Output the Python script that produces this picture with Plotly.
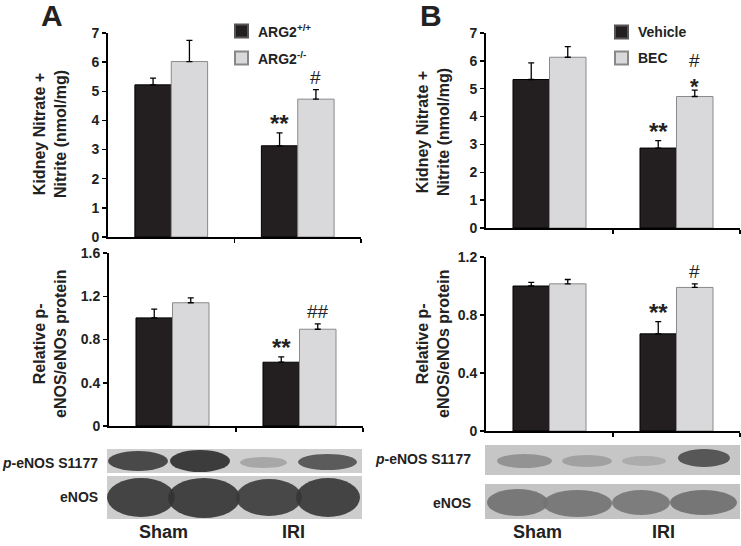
import plotly.graph_objects as go

# ---------------- data ----------------
categories = ["Sham", "IRI"]

# Panel A (ARG2 genotype)
a_series = ["ARG2<sup>+/+</sup>", "ARG2<sup>-/-</sup>"]
a_nox_wt = [5.22, 3.13]
a_nox_wt_err = [0.23, 0.44]
a_nox_ko = [6.02, 4.73]
a_nox_ko_err = [0.73, 0.33]
a_peNOS_wt = [1.00, 0.59]
a_peNOS_wt_err = [0.08, 0.05]
a_peNOS_ko = [1.14, 0.895]
a_peNOS_ko_err = [0.045, 0.05]

# Panel B (vehicle vs BEC)
b_series = ["Vehicle", "BEC"]
b_nox_veh = [5.33, 2.87]
b_nox_veh_err = [0.60, 0.27]
b_nox_bec = [6.13, 4.72]
b_nox_bec_err = [0.38, 0.23]
b_peNOS_veh = [1.00, 0.67]
b_peNOS_veh_err = [0.025, 0.085]
b_peNOS_bec = [1.015, 0.99]
b_peNOS_bec_err = [0.03, 0.025]

# significance marks: (series index, category index, text)
a_top_marks = [(0, 1, "**"), (1, 1, "#")]
a_bot_marks = [(0, 1, "**"), (1, 1, "##")]
b_top_marks = [(0, 1, "**"), (1, 1, "*"), (1, 1, "#")]
b_bot_marks = [(0, 1, "**"), (1, 1, "#")]

nox_ticks = [0, 1, 2, 3, 4, 5, 6, 7]
nox_ticktext = ["0", "1", "2", "3", "4", "5", "6", "7"]
a_pe_ticks = [0, 0.4, 0.8, 1.2, 1.6]
a_pe_ticktext = ["0", "0.4", "0.8", "1.2", "1.6"]
b_pe_ticks = [0, 0.4, 0.8, 1.2]
b_pe_ticktext = ["0", "0.4", "0.8", "1.2"]

nox_title = "Kidney Nitrate +<br>Nitrite (nmol/mg)"
pe_title = "Relative p-<br>eNOS/eNOs protein"
blot_row_labels = ["<i>p</i>-eNOS S1177", "eNOS"]

# ---------------- style ----------------
W, H = 741, 546
FONT = "Liberation Sans, Arial, sans-serif"
DARK = "#231f20"
LIGHT = "#d9d9db"
LIGHT_LINE = "#8a8a8a"
BARGAP = 0.425


def px(x):
    return x / W


def py(y):
    return 1 - y / H


fig = go.Figure()

panels = [
    ("a_top", "x", "y", [a_nox_wt, a_nox_ko], [a_nox_wt_err, a_nox_ko_err], (108, 361), (33, 237), 7, nox_ticks, nox_ticktext, a_top_marks),
    ("a_bot", "x2", "y2", [a_peNOS_wt, a_peNOS_ko], [a_peNOS_wt_err, a_peNOS_ko_err], (109, 363), (253, 426), 1.6, a_pe_ticks, a_pe_ticktext, a_bot_marks),
    ("b_top", "x3", "y3", [b_nox_veh, b_nox_bec], [b_nox_veh_err, b_nox_bec_err], (486, 740), (33, 228), 7, nox_ticks, nox_ticktext, b_top_marks),
    ("b_bot", "x4", "y4", [b_peNOS_veh, b_peNOS_bec], [b_peNOS_veh_err, b_peNOS_bec_err], (486, 740), (257, 431), 1.2, b_pe_ticks, b_pe_ticktext, b_bot_marks),
]

annotations = []
shapes = []
half = (1 - BARGAP) / 4  # offset of each bar center from category center

for i, (name, xa, ya, vals, errs, xd, yd, ymax, tv, tt, marks) in enumerate(panels):
    for s, (v, e) in enumerate(zip(vals, errs)):
        fig.add_trace(go.Bar(
            x=[0, 1], y=v, xaxis=xa, yaxis=ya,
            marker=dict(color=DARK if s == 0 else LIGHT,
                        line=dict(color="black" if s == 0 else LIGHT_LINE, width=1)),
            error_y=dict(type="data", array=e, arrayminus=[0, 0], symmetric=False,
                         color="black", thickness=1.3, width=3),
            showlegend=False, hoverinfo="skip",
            offsetgroup=str(s),
        ))
    suffix = "" if i == 0 else str(i + 1)
    fig.layout["xaxis" + suffix] = dict(
        domain=[px(xd[0]), px(xd[1])], anchor=ya, range=[-0.5, 1.5],
        showgrid=False, zeroline=False, showline=True, linecolor="black", linewidth=2,
        tickvals=[0.5, 1.5], ticks="outside", ticklen=4, tickwidth=1.5, tickcolor="black",
        showticklabels=False, fixedrange=True, automargin=False,
    )
    fig.layout["yaxis" + suffix] = dict(
        domain=[py(yd[1]), py(yd[0])], anchor=xa, range=[0, ymax],
        showgrid=False, zeroline=False, showline=True, linecolor="black", linewidth=2,
        tickvals=tv, ticktext=tt, ticks="outside", ticklen=4, tickwidth=1.5, tickcolor="black",
        tickfont=dict(family=FONT, size=14, color="#222", weight="bold"),
        fixedrange=True, automargin=False,
    )
    stacked = {}
    for s, cat, txt in marks:
        v = vals[s][cat] + errs[s][cat]
        key = (s, cat)
        lift = stacked.get(key, 0)
        if txt == "**":
            size, weight, shift = 24, "bold", -6
        elif txt == "*":
            size, weight, shift = 22, "bold", -11
        else:
            size, weight, shift = 19, "normal", 0
        annotations.append(dict(
            x=cat + (-half if s == 0 else half), y=v, xref=xa, yref=ya,
            text=txt, showarrow=False, yanchor="bottom",
            font=dict(family=FONT, size=size, color="#222", weight=weight),
            yshift=shift + lift,
        ))
        stacked[key] = lift + 17

fig.update_layout(barmode="group", bargap=BARGAP, bargroupgap=0)

# ---- axis titles ----
for cx, cy, txt in [(50, 134, nox_title), (433, 132, nox_title), (50, 344, pe_title), (433, 344, pe_title)]:
    annotations.append(dict(x=px(cx), y=py(cy), xref="paper", yref="paper", text=txt,
                            textangle=-90, showarrow=False, xanchor="center", yanchor="middle",
                            font=dict(family=FONT, size=16, color="#222", weight="bold")))

# ---- panel letters ----
for cx, label in [(52, "A"), (431, "B")]:
    annotations.append(dict(x=px(cx), y=py(15), xref="paper", yref="paper", text=label,
                            showarrow=False, xanchor="center", yanchor="middle",
                            font=dict(family=FONT, size=30, color="#222", weight="bold")))

# ---- legends (drawn) ----
for bx, names, ys in [(235, a_series, (31, 58)), (615, b_series, (32, 58))]:
    for k, (nm, yc) in enumerate(zip(names, ys)):
        shapes.append(dict(type="rect", xref="paper", yref="paper",
                           x0=px(bx), x1=px(bx + 13), y0=py(yc + 6.5), y1=py(yc - 6.5),
                           fillcolor=DARK if k == 0 else LIGHT,
                           line=dict(color="#555" if k == 0 else "#888", width=2)))
        annotations.append(dict(x=px(bx + 21), y=py(yc), xref="paper", yref="paper", text=nm,
                                showarrow=False, xanchor="left", yanchor="middle",
                                font=dict(family=FONT, size=14, color="#222", weight="bold")))

# ---- western blot strips (decorative) ----
blots = [
    ((107, 362, 449, 473), "#cfcfcf",
     [(108, 168, 451, 471, "#3a3a3a"), (170, 230, 450, 472, "#2b2b2b"),
      (240, 287, 457, 468, "#a2a2a2"), (298, 357, 454, 470, "#4e4e4e")]),
    ((107, 362, 476, 519), "#cdcdcd",
     [(107, 175, 478, 517, "#353535"), (168, 240, 478, 518, "#333333"),
      (236, 302, 479, 516, "#3a3a3a"), (296, 360, 478, 517, "#353535")]),
    ((485, 740, 445, 475), "#c6c6c6",
     [(497, 552, 454, 468, "#8d8d8d"), (562, 612, 455, 467, "#9c9c9c"),
      (622, 666, 456, 466, "#a8a8a8"), (678, 730, 449, 467, "#4a4a4a")]),
    ((485, 740, 484, 519), "#c3c3c3",
     [(487, 548, 489, 516, "#707070"), (543, 612, 490, 517, "#727272"),
      (612, 670, 490, 515, "#767676"), (670, 737, 490, 515, "#6e6e6e")]),
]
for (x0, x1, y0, y1), bg, bands in blots:
    shapes.append(dict(type="rect", xref="paper", yref="paper", x0=px(x0), x1=px(x1),
                       y0=py(y1), y1=py(y0), fillcolor=bg, line=dict(width=0), layer="below"))
    for bx0, bx1, by0, by1, col in bands:
        shapes.append(dict(type="circle", xref="paper", yref="paper", x0=px(bx0), x1=px(bx1),
                           y0=py(by1), y1=py(by0), fillcolor=col, line=dict(width=0),
                           opacity=0.9))

# ---- blot labels ----
for rx, yl in [(100, (463, 497)), (473, (459, 503))]:
    for lab, yc in zip(blot_row_labels, yl):
        annotations.append(dict(x=px(rx), y=py(yc), xref="paper", yref="paper", text=lab,
                                showarrow=False, xanchor="right", yanchor="middle",
                                font=dict(family=FONT, size=14, color="#222", weight="bold")))

for centers in [(163, 293), (537, 663)]:
    for cat, cx in zip(categories, centers):
        annotations.append(dict(x=px(cx), y=py(532), xref="paper", yref="paper", text=cat,
                                showarrow=False, xanchor="center", yanchor="middle",
                                font=dict(family=FONT, size=18, color="#222", weight="bold")))

fig.update_layout(
    width=W, height=H, margin=dict(l=0, r=0, t=0, b=0, autoexpand=False),
    paper_bgcolor="white", plot_bgcolor="rgba(0,0,0,0)",
    annotations=annotations, shapes=shapes, showlegend=False,
    font=dict(family=FONT), hovermode=False,
)

fig.write_html(
    "out.html",
    config={"displayModeBar": False, "staticPlot": True},
    post_script="document.body.style.margin='0px';document.body.style.overflow='hidden';",
)
